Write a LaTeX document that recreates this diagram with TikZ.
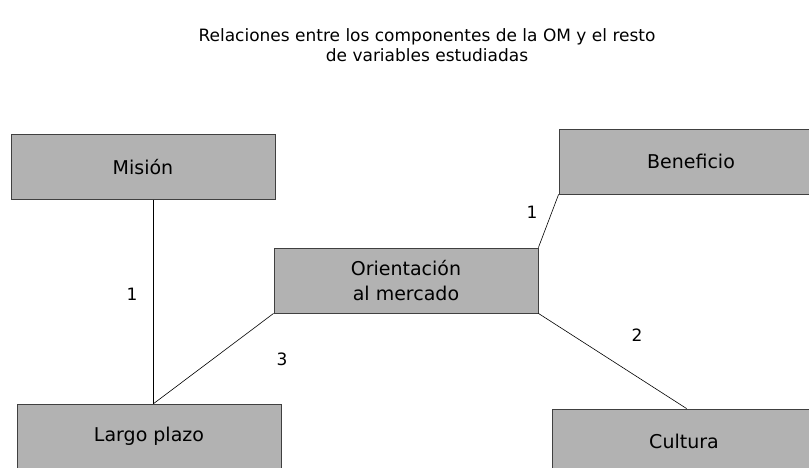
\documentclass[tikz,border=0pt]{standalone}
\usepackage{fontspec}
\setmainfont{DejaVu Sans}
\usetikzlibrary{calc}

\begin{document}
\begin{tikzpicture}[x=1pt,y=-1pt,
    caja/.style={draw=black!75, fill=black!30, line width=0.8pt,
        minimum width=264pt, minimum height=65pt, inner sep=0pt,
        align=center, font=\fontsize{19}{25}\selectfont},
    num/.style={font=\fontsize{17}{20}\selectfont}]

\useasboundingbox (0,0) rectangle (809,468);
\clip (0,0) rectangle (809,468);

\node [align=center, font=\fontsize{17}{20}\selectfont] (titulo) at (427,45)
    {Relaciones entre los componentes de la OM y el resto\\de variables estudiadas};

\node [caja] (mision)    at (143,167)   {Misión};
\node [caja] (beneficio) at (691,161.5) {Beneficio};
\node [caja] (om)        at (406,280.5) {Orientación\\al mercado};
\node [caja] (largo)     at (149,436.5) {Largo plazo};
\node [caja] (cultura)   at (684,441.5) {Cultura};

\coordinate (m)  at ($(mision.south west)!0.54!(mision.south east)$);
\coordinate (lp) at (m |- largo.north);
\coordinate (cu) at ($(cultura.north west)!0.51!(cultura.north east)$);

\foreach \a/\b in {m/lp, om.south west/lp, om.north east/beneficio.south west, om.south east/cu}
    \draw [line width=0.6pt] (\a) -- (\b);

\node [num] (r1) at (132,294) {1};
\node [num] (r2) at (532,212) {1};
\node [num] (r3) at (282,359) {3};
\node [num] (r4) at (637,335) {2};

\end{tikzpicture}
\end{document}
